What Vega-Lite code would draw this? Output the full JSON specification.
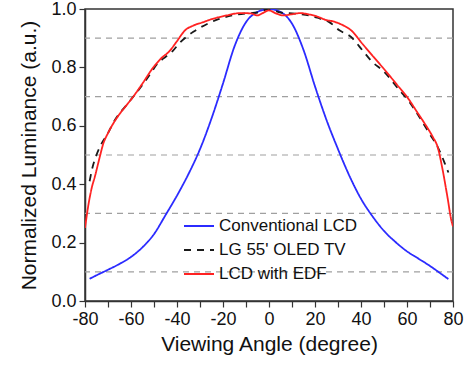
{
  "$schema": "https://vega.github.io/schema/vega-lite/v6.json",
  "width": 368,
  "height": 292,
  "autosize": "none",
  "padding": {"left": 85, "top": 9, "right": 23, "bottom": 64},
  "background": "white",
  "config": {
    "font": "Liberation Sans",
    "view": {"stroke": "#333333", "strokeWidth": 1.5},
    "axis": {"grid": false, "domainColor": "#333333", "domainWidth": 1.5, "tickColor": "#333333", "tickWidth": 1.2, "labelColor": "#111111", "titleColor": "#111111", "labelFont": "Liberation Sans", "titleFont": "Liberation Sans", "titleFontWeight": "normal"}
  },
  "datasets": {
    "curves": [
      {"angle": -78, "lum": 0.076, "series": "Conventional LCD"},
      {"angle": -75, "lum": 0.088, "series": "Conventional LCD"},
      {"angle": -70, "lum": 0.107, "series": "Conventional LCD"},
      {"angle": -65, "lum": 0.127, "series": "Conventional LCD"},
      {"angle": -60, "lum": 0.151, "series": "Conventional LCD"},
      {"angle": -55, "lum": 0.184, "series": "Conventional LCD"},
      {"angle": -50, "lum": 0.229, "series": "Conventional LCD"},
      {"angle": -45, "lum": 0.294, "series": "Conventional LCD"},
      {"angle": -40, "lum": 0.361, "series": "Conventional LCD"},
      {"angle": -35, "lum": 0.435, "series": "Conventional LCD"},
      {"angle": -30, "lum": 0.52, "series": "Conventional LCD"},
      {"angle": -25, "lum": 0.625, "series": "Conventional LCD"},
      {"angle": -20, "lum": 0.745, "series": "Conventional LCD"},
      {"angle": -15, "lum": 0.872, "series": "Conventional LCD"},
      {"angle": -10, "lum": 0.955, "series": "Conventional LCD"},
      {"angle": -5, "lum": 0.99, "series": "Conventional LCD"},
      {"angle": 0, "lum": 1.0, "series": "Conventional LCD"},
      {"angle": 5, "lum": 0.99, "series": "Conventional LCD"},
      {"angle": 10, "lum": 0.95, "series": "Conventional LCD"},
      {"angle": 15, "lum": 0.86, "series": "Conventional LCD"},
      {"angle": 20, "lum": 0.735, "series": "Conventional LCD"},
      {"angle": 25, "lum": 0.62, "series": "Conventional LCD"},
      {"angle": 30, "lum": 0.52, "series": "Conventional LCD"},
      {"angle": 35, "lum": 0.428, "series": "Conventional LCD"},
      {"angle": 40, "lum": 0.35, "series": "Conventional LCD"},
      {"angle": 45, "lum": 0.29, "series": "Conventional LCD"},
      {"angle": 50, "lum": 0.24, "series": "Conventional LCD"},
      {"angle": 55, "lum": 0.202, "series": "Conventional LCD"},
      {"angle": 60, "lum": 0.17, "series": "Conventional LCD"},
      {"angle": 65, "lum": 0.145, "series": "Conventional LCD"},
      {"angle": 70, "lum": 0.12, "series": "Conventional LCD"},
      {"angle": 75, "lum": 0.092, "series": "Conventional LCD"},
      {"angle": 78, "lum": 0.075, "series": "Conventional LCD"},

      {"angle": -78, "lum": 0.41, "series": "LG 55' OLED TV"},
      {"angle": -77, "lum": 0.449, "series": "LG 55' OLED TV"},
      {"angle": -75, "lum": 0.5, "series": "LG 55' OLED TV"},
      {"angle": -73.5, "lum": 0.528, "series": "LG 55' OLED TV"},
      {"angle": -70, "lum": 0.575, "series": "LG 55' OLED TV"},
      {"angle": -67, "lum": 0.62, "series": "LG 55' OLED TV"},
      {"angle": -62.6, "lum": 0.665, "series": "LG 55' OLED TV"},
      {"angle": -59, "lum": 0.7, "series": "LG 55' OLED TV"},
      {"angle": -55, "lum": 0.74, "series": "LG 55' OLED TV"},
      {"angle": -51, "lum": 0.785, "series": "LG 55' OLED TV"},
      {"angle": -48.8, "lum": 0.81, "series": "LG 55' OLED TV"},
      {"angle": -46, "lum": 0.83, "series": "LG 55' OLED TV"},
      {"angle": -42, "lum": 0.855, "series": "LG 55' OLED TV"},
      {"angle": -38.7, "lum": 0.885, "series": "LG 55' OLED TV"},
      {"angle": -32.9, "lum": 0.922, "series": "LG 55' OLED TV"},
      {"angle": -27.1, "lum": 0.948, "series": "LG 55' OLED TV"},
      {"angle": -22, "lum": 0.965, "series": "LG 55' OLED TV"},
      {"angle": -16, "lum": 0.978, "series": "LG 55' OLED TV"},
      {"angle": -10, "lum": 0.985, "series": "LG 55' OLED TV"},
      {"angle": -5, "lum": 0.988, "series": "LG 55' OLED TV"},
      {"angle": 0, "lum": 1.0, "series": "LG 55' OLED TV"},
      {"angle": 5, "lum": 0.988, "series": "LG 55' OLED TV"},
      {"angle": 10, "lum": 0.985, "series": "LG 55' OLED TV"},
      {"angle": 16, "lum": 0.98, "series": "LG 55' OLED TV"},
      {"angle": 21, "lum": 0.97, "series": "LG 55' OLED TV"},
      {"angle": 26.2, "lum": 0.955, "series": "LG 55' OLED TV"},
      {"angle": 30.6, "lum": 0.927, "series": "LG 55' OLED TV"},
      {"angle": 35.7, "lum": 0.904, "series": "LG 55' OLED TV"},
      {"angle": 40.7, "lum": 0.858, "series": "LG 55' OLED TV"},
      {"angle": 45, "lum": 0.818, "series": "LG 55' OLED TV"},
      {"angle": 49.4, "lum": 0.79, "series": "LG 55' OLED TV"},
      {"angle": 56.7, "lum": 0.722, "series": "LG 55' OLED TV"},
      {"angle": 61, "lum": 0.682, "series": "LG 55' OLED TV"},
      {"angle": 65.3, "lum": 0.631, "series": "LG 55' OLED TV"},
      {"angle": 69.7, "lum": 0.574, "series": "LG 55' OLED TV"},
      {"angle": 74, "lum": 0.517, "series": "LG 55' OLED TV"},
      {"angle": 77, "lum": 0.46, "series": "LG 55' OLED TV"},
      {"angle": 78, "lum": 0.44, "series": "LG 55' OLED TV"},

      {"angle": -80, "lum": 0.25, "series": "LCD with EDF"},
      {"angle": -78.5, "lum": 0.33, "series": "LCD with EDF"},
      {"angle": -77, "lum": 0.39, "series": "LCD with EDF"},
      {"angle": -75.7, "lum": 0.426, "series": "LCD with EDF"},
      {"angle": -74, "lum": 0.48, "series": "LCD with EDF"},
      {"angle": -72, "lum": 0.54, "series": "LCD with EDF"},
      {"angle": -70, "lum": 0.575, "series": "LCD with EDF"},
      {"angle": -67.7, "lum": 0.608, "series": "LCD with EDF"},
      {"angle": -65, "lum": 0.64, "series": "LCD with EDF"},
      {"angle": -62, "lum": 0.67, "series": "LCD with EDF"},
      {"angle": -59, "lum": 0.7, "series": "LCD with EDF"},
      {"angle": -55, "lum": 0.745, "series": "LCD with EDF"},
      {"angle": -50.3, "lum": 0.8, "series": "LCD with EDF"},
      {"angle": -47, "lum": 0.83, "series": "LCD with EDF"},
      {"angle": -43, "lum": 0.858, "series": "LCD with EDF"},
      {"angle": -40, "lum": 0.89, "series": "LCD with EDF"},
      {"angle": -36.5, "lum": 0.927, "series": "LCD with EDF"},
      {"angle": -33, "lum": 0.943, "series": "LCD with EDF"},
      {"angle": -28.6, "lum": 0.955, "series": "LCD with EDF"},
      {"angle": -25, "lum": 0.965, "series": "LCD with EDF"},
      {"angle": -18.4, "lum": 0.978, "series": "LCD with EDF"},
      {"angle": -12.6, "lum": 0.986, "series": "LCD with EDF"},
      {"angle": -8, "lum": 0.985, "series": "LCD with EDF"},
      {"angle": -5, "lum": 0.978, "series": "LCD with EDF"},
      {"angle": -3, "lum": 0.985, "series": "LCD with EDF"},
      {"angle": 0, "lum": 0.995, "series": "LCD with EDF"},
      {"angle": 3, "lum": 0.985, "series": "LCD with EDF"},
      {"angle": 6.2, "lum": 0.978, "series": "LCD with EDF"},
      {"angle": 10, "lum": 0.982, "series": "LCD with EDF"},
      {"angle": 13.5, "lum": 0.986, "series": "LCD with EDF"},
      {"angle": 17, "lum": 0.982, "series": "LCD with EDF"},
      {"angle": 20.7, "lum": 0.975, "series": "LCD with EDF"},
      {"angle": 25, "lum": 0.962, "series": "LCD with EDF"},
      {"angle": 27.7, "lum": 0.958, "series": "LCD with EDF"},
      {"angle": 32, "lum": 0.945, "series": "LCD with EDF"},
      {"angle": 35.7, "lum": 0.927, "series": "LCD with EDF"},
      {"angle": 40.7, "lum": 0.88, "series": "LCD with EDF"},
      {"angle": 45, "lum": 0.84, "series": "LCD with EDF"},
      {"angle": 49.4, "lum": 0.8, "series": "LCD with EDF"},
      {"angle": 55.2, "lum": 0.745, "series": "LCD with EDF"},
      {"angle": 61, "lum": 0.688, "series": "LCD with EDF"},
      {"angle": 63.9, "lum": 0.653, "series": "LCD with EDF"},
      {"angle": 67.5, "lum": 0.61, "series": "LCD with EDF"},
      {"angle": 71.2, "lum": 0.562, "series": "LCD with EDF"},
      {"angle": 73.3, "lum": 0.528, "series": "LCD with EDF"},
      {"angle": 75.5, "lum": 0.449, "series": "LCD with EDF"},
      {"angle": 77.5, "lum": 0.36, "series": "LCD with EDF"},
      {"angle": 79.4, "lum": 0.272, "series": "LCD with EDF"},
      {"angle": 80, "lum": 0.255, "series": "LCD with EDF"}
    ],
    "grid": [{"level": 0.1}, {"level": 0.3}, {"level": 0.5}, {"level": 0.7}, {"level": 0.9}]
  },
  "layer": [
    {
      "data": {"name": "grid"},
      "mark": {"type": "rule", "color": "#a0a0a0", "strokeWidth": 1.2, "strokeDash": [6, 5]},
      "encoding": {
        "y": {"field": "level", "type": "quantitative", "scale": {"domain": [0, 1]}}
      }
    },
    {
      "data": {"name": "curves"},
      "mark": {"type": "line", "strokeWidth": 1.8, "clip": true, "interpolate": "monotone"},
      "encoding": {
        "x": {
          "field": "angle", "type": "quantitative",
          "scale": {"domain": [-80, 80], "nice": false},
          "axis": {"title": "Viewing Angle (degree)", "values": [-80, -70, -60, -50, -40, -30, -20, -10, 0, 10, 20, 30, 40, 50, 60, 70, 80],
            "labelExpr": "datum.value % 20 == 0 ? '' + datum.value : ''",
            "labelFontSize": 18, "titleFontSize": 21, "tickSize": 6, "labelPadding": 3, "titlePadding": 5, "labelFlush": false}
        },
        "y": {
          "field": "lum", "type": "quantitative",
          "scale": {"domain": [0, 1], "nice": false},
          "axis": {"title": "Normalized Luminance (a.u.)", "values": [0, 0.1, 0.2, 0.3, 0.4, 0.5, 0.6, 0.7, 0.8, 0.9, 1.0],
            "labelExpr": "round(datum.value * 10) % 2 == 0 ? format(datum.value, '.1f') : ''",
            "labelFontSize": 18, "titleFontSize": 21, "tickSize": 6, "labelPadding": 3, "titlePadding": 11, "labelFlush": false}
        },
        "color": {
          "field": "series", "type": "nominal",
          "scale": {"domain": ["Conventional LCD", "LG 55' OLED TV", "LCD with EDF"], "range": ["#2b2bff", "#1a1a1a", "#ff2222"]},
          "legend": {"title": null, "orient": "none", "legendX": 98, "legendY": 201, "symbolType": "stroke", "symbolSize": 900, "symbolStrokeWidth": 1.8, "labelFontSize": 17, "labelFont": "Liberation Sans", "labelColor": "#111111", "rowPadding": -5, "labelOffset": 4}
        },
        "strokeDash": {
          "field": "series", "type": "nominal",
          "scale": {"domain": ["Conventional LCD", "LG 55' OLED TV", "LCD with EDF"], "range": [[1, 0], [7, 6], [1, 0]]},
          "legend": {"title": null, "orient": "none", "legendX": 98, "legendY": 201, "symbolType": "stroke", "symbolSize": 900, "symbolStrokeWidth": 1.8, "labelFontSize": 17, "labelFont": "Liberation Sans", "labelColor": "#111111", "rowPadding": -5, "labelOffset": 4}
        }
      }
    }
  ]
}
